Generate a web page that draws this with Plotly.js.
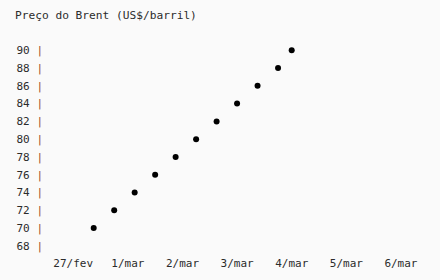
<!DOCTYPE html>
<html>
<head>
<meta charset="utf-8">
<script src="https://cdn.plot.ly/plotly-3.0.1.min.js"></script>
<style>html,body{margin:0;padding:0;background:#fafafa;}#chart{width:440px;height:280px;}</style>
</head>
<body>
<div id="chart"></div>
<script>
// Dias contados a partir de 27/fev 00h
const dias = [0.375, 0.75, 1.125, 1.5, 1.875, 2.25, 2.625, 3.0, 3.375, 3.75, 4.0];
const precos = [70, 72, 74, 76, 78, 80, 82, 84, 86, 88, 90];
const xTickVals = [0, 1, 2, 3, 4, 5, 6];
const xTickText = ['27/fev', '1/mar', '2/mar', '3/mar', '4/mar', '5/mar', '6/mar'];
const yTickVals = [68, 70, 72, 74, 76, 78, 80, 82, 84, 86, 88, 90];

const font = "'DejaVu Sans Mono', 'Liberation Mono', monospace";
const barColor = '#9a4a2a';

const trace = {
  x: dias, y: precos, type: 'scatter', mode: 'markers',
  marker: {color: '#000000', size: 6},
  hoverinfo: 'skip', showlegend: false
};

const layout = {
  width: 440, height: 280,
  paper_bgcolor: '#fafafa', plot_bgcolor: '#fafafa',
  margin: {l: 44, r: 10, t: 40, b: 28},
  font: {family: font, size: 11, color: '#2b2b2b'},
  title: {text: 'Preço do Brent (US$/barril)', font: {family: font, size: 11.2, color: '#2b2b2b'},
          xref: 'container', yref: 'container', x: 15/440, xanchor: 'left', y: 1 - 15/280, yanchor: 'middle'},
  xaxis: {range: [-0.535, 6.532], tickmode: 'array', tickvals: xTickVals, ticktext: xTickText,
          ticklabelstandoff: 3,
          showgrid: false, zeroline: false, showline: false, ticks: '', fixedrange: true},
  yaxis: {range: [67.3, 91.16], tickmode: 'array', tickvals: yTickVals,
          ticktext: yTickVals.map(v => v + " <span style='color:" + barColor + "'>|</span>"),
          showgrid: false, zeroline: false, showline: false, ticks: '', fixedrange: true}
};

Plotly.newPlot('chart', [trace], layout, {displayModeBar: false, staticPlot: true});
</script>
</body>
</html>
